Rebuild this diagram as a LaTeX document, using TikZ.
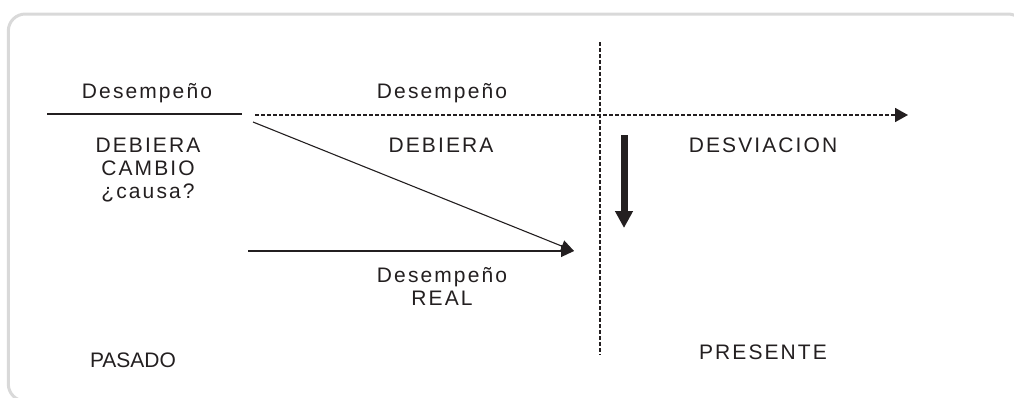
\documentclass[tikz,border=0pt]{standalone}
\usepackage{fontspec}
\setmainfont{Liberation Sans}[LetterSpace=10]
\newfontfamily\tightfont{Liberation Sans}
\usetikzlibrary{arrows.meta}
\definecolor{ink}{HTML}{231F20}
\definecolor{framegray}{HTML}{D9D9D9}

\begin{document}
\begin{tikzpicture}
    [x=1pt,y=-1pt,
      every node/.style={inner sep=0pt,text=ink,font=\fontsize{21}{23}\selectfont},
      tag/.style={anchor=base,align=center},
      timeline/.style={ink,line width=1.8pt,dash pattern=on 4pt off 2pt},
      trend/.style={ink,line width=1.1pt,-{Triangle[length=13pt,width=12pt]}},
      devarrow/.style={ink,line width=7pt,-{Triangle[length=17pt,width=17pt]}}]
    \useasboundingbox (0,0) rectangle (1014,397);
    \draw[framegray,line width=3pt,rounded corners=17pt] (8.3,14) rectangle (1025,401);

    \coordinate (pastL) at (47,114);
    \coordinate (pastR) at (242,114);
    \coordinate (planS) at (255,115);
    \coordinate (planE) at (908,115);
    \coordinate (trendS) at (253,122);
    \coordinate (realS) at (248,251);
    \coordinate (meet) at (574,251);
    \coordinate (nowT) at (600,42);
    \coordinate (nowB) at (600,355);
    \coordinate (devT) at (624,135);
    \coordinate (devB) at (624,228);

    \draw[ink,line width=1.1pt] (pastL) -- (pastR);
    \draw[timeline,-{Triangle[length=13pt,width=14pt]}] (planS) -- (planE);
    \draw[timeline] (nowT) -- (nowB);
    \draw[trend] (trendS) -- (meet);
    \draw[trend] (realS) -- (meet);
    \draw[devarrow] (devT) -- (devB);

    \node[tag] (pastPerf) at (147,98) {Desempeño};
    \node[tag] (pastShould) at (148,198) {DEBIERA\\CAMBIO\\¿causa?};
    \node[tag] (planPerf) at (442,98) {Desempeño};
    \node[tag] (planShould) at (441,152) {DEBIERA};
    \node[tag] (realPerf) at (442,305) {Desempeño\\REAL};
    \node[tag] (deviation) at (763,152) {DESVIACION};
    \node[tag] (present) at (763,359) {PRESENTE};
    \node[tag,font=\tightfont\fontsize{21}{23}\selectfont] (past) at (133,367) {PASADO};
  \end{tikzpicture}
\end{document}
